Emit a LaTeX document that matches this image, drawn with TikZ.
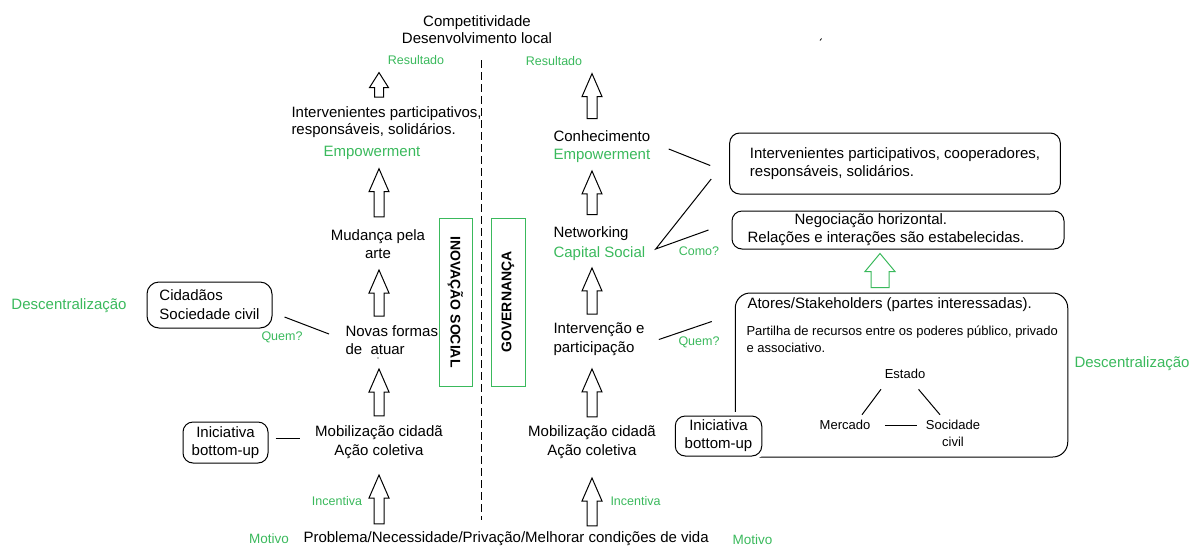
\documentclass[tikz,border=0pt]{standalone}
\usepackage{fontspec}
\setmainfont{Liberation Sans}
\usetikzlibrary{calc}
\definecolor{verde}{RGB}{58,185,92}
\tikzset{
	txt/.style={inner sep=0pt, align=center, font=\fontsize{15}{18}\selectfont},
	gtxt/.style={txt, text=verde},
	gsmall/.style={inner sep=0pt, text=verde, font=\fontsize{12.5}{15}\selectfont},
	caixa/.style={txt, draw, rounded corners=10pt},
	pilar/.style={draw=verde, inner sep=0pt, minimum width=168pt, font=\bfseries\fontsize{14}{16}\selectfont},
	blockup/.style n args={5}{to path={($(\tikztostart)+(-#3,-#1)$) -- ($(\tikztotarget)+(-#3,#2+#5)$) -- ($(\tikztotarget)+(-#4,#2+#5)$) -- ($(\tikztotarget)+(0,#2)$) -- ($(\tikztotarget)+(#4,#2+#5)$) -- ($(\tikztotarget)+(#3,#2+#5)$) -- ($(\tikztostart)+(#3,-#1)$) -- cycle}},
	upar/.style 2 args={blockup={#1}{#2}{5}{10}{23}},
}
\begin{document}
\begin{tikzpicture}[x=1pt,y=1pt,yscale=-1,line width=1pt]
	\path[use as bounding box] (0,0) rectangle (1189,547);
	
	\coordinate (colL) at (379,0);
	\coordinate (colR) at (592,0);
	\coordinate (colG) at (880,0);
	
	%Straight Lines: divisoria
	\draw[dash pattern=on 8pt off 4pt] (481,60) -- (481,520);
	
	% Text Node
	\node[txt, font=\fontsize{15}{17}\selectfont] (comp) at (477,30) {Competitividade\\Desenvolvimento local};
	% Text Node
	\node[gsmall] (resL) at (416,60) {Resultado};
	% Text Node
	\node[gsmall] (resR) at (554,61) {Resultado};
	% Text Node
	\node[txt, align=left, anchor=west, font=\fontsize{15}{17}\selectfont] (intL) at (291,122) {Intervenientes participativos,\\responsáveis, solidários.};
	% Text Node
	\node[gtxt] (empL) at (372,153) {Empowerment};
	% Text Node
	\node[txt] (mud) at (378,244) {Mudança pela\\arte};
	% Text Node
	\node[txt, align=left, anchor=west] (novas) at (345,340) {Novas formas\\de\ \ atuar};
	% Text Node
	\node[txt, font=\fontsize{15}{19}\selectfont] (mobL) at (379,442.5) {Mobilização cidadã\\Ação coletiva};
	% Text Node
	\node[gsmall] (incL) at (337,501) {Incentiva};
	% Text Node
	\node[gsmall, font=\fontsize{13.5}{15}\selectfont] (motL) at (269,539) {Motivo};
	% Text Node
	\node[txt, anchor=west] (prob) at (303,539) {Problema/Necessidade/Privação/Melhorar condições de vida};
	% Text Node
	\node[gtxt, anchor=west] (descL) at (11,306) {Descentralização};
	%Shape: Rounded Rectangle
	\node[caixa, align=left, rounded corners=12pt, minimum width=125pt, minimum height=46pt, font=\fontsize{15}{19}\selectfont] (cid) at (209.5,305) {Cidadãos\\Sociedade civil};
	% Text Node
	\node[gsmall] (quemL) at (282,337) {Quem?};
	%Shape: Rounded Rectangle
	\node[caixa, minimum width=85pt, minimum height=41pt] (iniL) at (225.5,442.5) {Iniciativa\\bottom-up};
	
	%Shape: Rectangle
	\node[pilar, rotate=-90, minimum height=33pt] (inov) at (455.5,302) {INOVAÇÃO SOCIAL};
	%Shape: Rectangle
	\node[pilar, rotate=90, minimum height=34pt] (gov) at (508,302) {GOVERNANÇA};
	
	% Text Node
	\node[txt, align=left, anchor=west] (conh) at (553,147) {Conhecimento\\\textcolor{verde}{Empowerment}};
	% Text Node
	\node[txt, align=left, anchor=west, font=\fontsize{15}{20}\selectfont] (netw) at (553,244) {Networking\\\textcolor{verde}{Capital Social}};
	% Text Node
	\node[gsmall] (como) at (699,251) {Como?};
	% Text Node
	\node[txt, align=left, anchor=west, font=\fontsize{15}{19}\selectfont] (interv) at (553,339.5) {Intervenção e\\participação};
	% Text Node
	\node[gsmall] (quemR) at (699,342) {Quem?};
	% Text Node
	\node[txt, font=\fontsize{15}{19}\selectfont] (mobR) at (592,442.5) {Mobilização cidadã\\Ação coletiva};
	% Text Node
	\node[gsmall, anchor=west] (incR) at (610,501) {Incentiva};
	% Text Node
	\node[gsmall, anchor=west, font=\fontsize{13.5}{15}\selectfont] (motR) at (732,540) {Motivo};
	% Text Node
	\node[gtxt, anchor=west] (descR) at (1074,364) {Descentralização};
	
	%Shape: Rounded Rectangle
	\node[caixa, align=left, minimum width=330.6pt, minimum height=61pt] (topo) at (895,163.5) {Intervenientes participativos, cooperadores,\\responsáveis, solidários.};
	%Shape: Rounded Rectangle
	\node[caixa, align=left, minimum width=332pt, minimum height=38pt] (neg) at (898,230) {\hspace*{47pt}Negociação horizontal.\\Relações e interações são estabelecidas.\hspace*{24pt}};
	%Shape: Rounded Rectangle
	\node[draw, rounded corners=15pt, minimum width=332.5pt, minimum height=164pt] (atores) at (901.5,375) {};
	% Text Node
	\node[txt, anchor=west] (ato) at (747,305) {Atores/Stakeholders (partes interessadas).};
	% Text Node
	\node[txt, align=left, anchor=west, font=\fontsize{13}{17}\selectfont] (part) at (746,339.5) {Partilha de recursos entre os poderes público, privado\\e associativo.};
	% Text Node
	\node[txt, font=\fontsize{13}{17}\selectfont] (estado) at (905,374) {Estado};
	% Text Node
	\node[txt, font=\fontsize{13}{17}\selectfont] (merc) at (845,425) {Mercado};
	% Text Node
	\node[txt, font=\fontsize{13}{17}\selectfont] (soc) at (953,433.5) {Socidade\\civil};
	%Shape: Rounded Rectangle
	\node[caixa, fill=white, preaction={draw=white, line width=8pt}, minimum width=86.5pt, minimum height=40pt] (iniR) at (718.5,436) {Iniciativa\\bottom-up};
	
	%Up Arrow
	\draw[blockup={9}{7.5}{4.5}{9.5}{15}] (intL.north -| colL) to (resL.south -| colL);
	\draw[upar={12}{8.5}] (mud.north -| colL) to (empL.south -| colL);
	\draw[upar={9}{11}] (novas.north -| colL) to (mud.south -| colL);
	\draw[upar={9.5}{14}] (mobL.north -| colL) to (novas.south -| colL);
	\draw[upar={7.5}{15.5}] (prob.north -| colL) to (mobL.south -| colL);
	%Up Arrow
	\draw[upar={12}{7.5}] (conh.north -| colR) to (resR.south -| colR);
	\draw[upar={12}{7.5}] (netw.north -| colR) to (conh.south -| colR);
	\draw[upar={8.5}{6.5}] (interv.north -| colR) to (netw.south -| colR);
	\draw[upar={8.5}{12.5}] (mobR.north -| colR) to (interv.south -| colR);
	\draw[upar={5.5}{18.5}] (prob.north -| colR) to (mobR.south -| colR);
	%Up Arrow
	\draw[verde, blockup={5}{4}{9}{15}{18}] (atores.north -| colG) to (neg.south -| colG);
	
	%Straight Lines
	\draw ($(cid.east)+(12,12)$) -- ($(novas.west)+(-16,-6)$);
	\draw ($(iniL.east)+(7,-4.5)$) -- ($(mobL.west)+(-15,-4.5)$);
	\draw ($(conh.east)+(18,2)$) -- ($(topo.west)+(-19,2)$);
	\draw ($(topo.west)+(-18,15.5)$) -- ($(netw.east)+(10,5)$) -- ($(neg.west)+(-23,0)$);
	\draw ($(interv.east)+(14,0)$) -- ($(atores.north west)+(-23,29)$);
	\draw ($(estado.south)+(-24,10)$) -- ($(merc.north)+(17,-5)$);
	\draw ($(estado.south)+(13.5,10)$) -- ($(soc.north)+(-13,-5)$);
	\draw ($(merc.east)+(14,0)$) -- ($(soc.west)+(-8.5,-8.5)$);
	
	% marks
	\fill (378,358) circle (0.6);
	\draw[line width=0.8pt] (820,40.5) -- (821.5,38.5);
\end{tikzpicture}
\end{document}
